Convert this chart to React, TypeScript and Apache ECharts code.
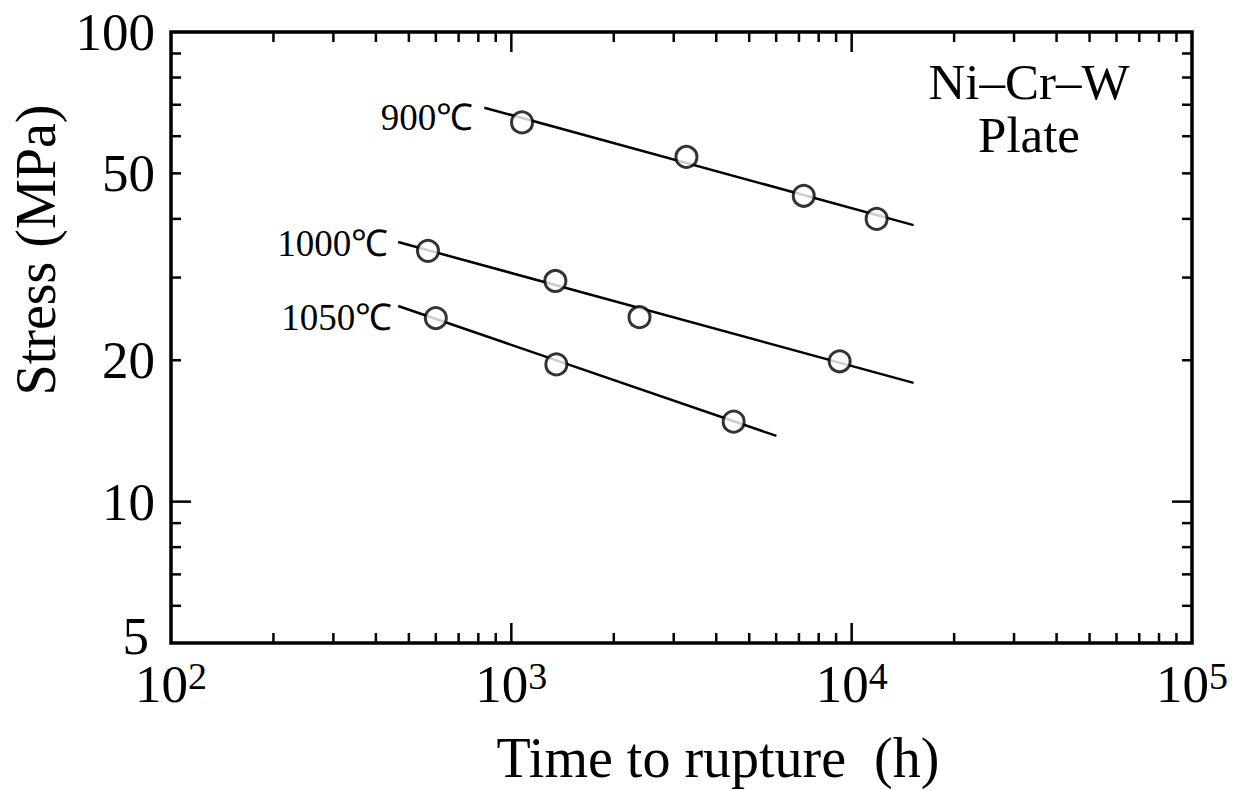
import React, { useEffect, useRef } from "react";
import * as echarts from "echarts";

// ---- data ----
const seriesNames = ["900℃", "1000℃", "1050℃"];
const points900: [number, number][] = [[1075, 64.2], [3270, 54.2], [7230, 44.8], [11840, 40.0]];
const points1000: [number, number][] = [[569, 34.2], [1347, 29.5], [2380, 24.7], [9220, 19.9]];
const points1050: [number, number][] = [[600, 24.6], [1356, 19.6], [4500, 14.8]];
const fit900: [number, number][] = [[833, 69.0], [15200, 38.8]];
const fit1000: [number, number][] = [[465, 35.7], [15200, 17.9]];
const fit1050: [number, number][] = [[465, 26.1], [6010, 13.8]];

const yTickLabels = [5, 10, 20, 50, 100];
const xMinorTicks = [200, 300, 400, 500, 600, 700, 800, 900, 2000, 3000, 4000, 5000, 6000, 7000, 8000, 9000, 20000, 30000, 40000, 50000, 60000, 70000, 80000, 90000];
const xMajorTicks = [1000, 10000];
const yMinorTicks = [6, 7, 8, 9, 20, 30, 40, 50, 60, 70, 80, 90];
const yMajorTicks = [10];

const labelOffsets: [number, number][] = [[0, 10], [0, 1], [0, 12]];
const labelDistances = [11, 10, 6];

const SERIF = "'Liberation Serif', 'Times New Roman', serif";

export default function App() {
  const ref = useRef<HTMLDivElement>(null);
  useEffect(() => {
    document.body.style.margin = "0";
    const chart = echarts.init(ref.current!, undefined, { renderer: "svg" });
    const fits = [fit900, fit1000, fit1050];
    const pts = [points900, points1000, points1050];

    const lineSeries = fits.map((f, i) => ({
      type: "line",
      name: seriesNames[i] + " fit",
      symbol: "circle",
      symbolSize: 0,
      showSymbol: true,
      lineStyle: { color: "#000", width: 2.5 },
      itemStyle: { color: "#000" },
      z: 2,
      data: f.map((p, j) =>
        j === 0
          ? {
              value: p,
              label: {
                show: true,
                position: "left",
                distance: labelDistances[i],
                offset: labelOffsets[i],
                formatter: seriesNames[i],
                fontSize: 37,
                fontFamily: SERIF,
                color: "#000",
              },
            }
          : { value: p, label: { show: false } }
      ),
    }));

    const scatterSeries = pts.map((p, i) => ({
      type: "scatter",
      name: seriesNames[i],
      symbol: "circle",
      symbolSize: 21,
      itemStyle: { color: "#fff", borderColor: "#000", borderWidth: 3 },
      z: 3,
      data: p,
    }));

    const xTickData = [
      ...xMinorTicks.map((v) => [v, 10, 10]),
      ...xMajorTicks.map((v) => [v, 10, 20]),
    ];
    const yTickData = [
      ...yMinorTicks.map((v) => [1000, v, 10]),
      ...yMajorTicks.map((v) => [1000, v, 20]),
    ];

    const option: any = {
      animation: false,
      grid: {
        left: 171,
        right: 47,
        top: 32,
        bottom: 147,
        show: true,
        borderColor: "#000",
        borderWidth: 3.5,
        backgroundColor: "transparent",
      },
      xAxis: {
        type: "log",
        logBase: 10,
        min: 100,
        max: 100000,
        axisLine: { show: false },
        axisTick: { show: false },
        splitLine: { show: false },
        axisLabel: {
          margin: 14,
          formatter: (v: number) => `{b|10}{s|${Math.round(Math.log10(v))}}`,
          rich: {
            b: { fontSize: 53, fontFamily: SERIF, color: "#000" },
            s: { fontSize: 38, fontFamily: SERIF, color: "#000", verticalAlign: "top" },
          },
        },
      },
      yAxis: {
        type: "log",
        logBase: 10,
        min: 5,
        max: 100,
        axisLine: { show: false },
        axisTick: { show: false },
        axisLabel: { show: false },
        splitLine: { show: false },
      },
      graphic: [
        {
          type: "text",
          x: 718,
          y: 758,
          style: {
            text: "Time to rupture  (h)",
            fontSize: 56,
            fontFamily: SERIF,
            fill: "#000",
            align: "center",
            verticalAlign: "middle",
          },
        },
        {
          type: "text",
          x: 36,
          y: 250,
          rotation: Math.PI / 2,
          style: {
            text: "Stress (MPa)",
            fontSize: 56,
            fontFamily: SERIF,
            fill: "#000",
            align: "center",
            verticalAlign: "middle",
          },
        },
        {
          type: "text",
          x: 1029,
          y: 108,
          style: {
            text: "Ni–Cr–W\nPlate",
            fontSize: 51,
            lineHeight: 53,
            fontFamily: SERIF,
            fill: "#000",
            align: "center",
            verticalAlign: "middle",
          },
        },
      ],
      series: [
        ...lineSeries,
        ...scatterSeries,
        {
          type: "custom",
          name: "xticks",
          silent: true,
          data: xTickData,
          renderItem: (params: any, api: any) => {
            const cs = params.coordSys;
            const px = api.coord([api.value(0), 10])[0];
            const len = api.value(2);
            const b = cs.y + cs.height;
            return {
              type: "group",
              children: [
                { type: "line", shape: { x1: px, y1: b, x2: px, y2: b - len }, style: { stroke: "#000", lineWidth: 2.5 } },
                { type: "line", shape: { x1: px, y1: cs.y, x2: px, y2: cs.y + len }, style: { stroke: "#000", lineWidth: 2.5 } },
              ],
            };
          },
        },
        {
          type: "custom",
          name: "yticks",
          silent: true,
          data: yTickData,
          renderItem: (params: any, api: any) => {
            const cs = params.coordSys;
            const py = api.coord([1000, api.value(1)])[1];
            const len = api.value(2);
            const r = cs.x + cs.width;
            return {
              type: "group",
              children: [
                { type: "line", shape: { x1: cs.x, y1: py, x2: cs.x + len, y2: py }, style: { stroke: "#000", lineWidth: 2.5 } },
                { type: "line", shape: { x1: r, y1: py, x2: r - len, y2: py }, style: { stroke: "#000", lineWidth: 2.5 } },
              ],
            };
          },
        },
        {
          type: "custom",
          name: "ylabels",
          silent: true,
          data: yTickLabels.map((v) => [1000, v]),
          renderItem: (params: any, api: any) => {
            const cs = params.coordSys;
            const v = api.value(1);
            const py = api.coord([1000, v])[1];
            const isBottom = v === yTickLabels[0];
            return {
              type: "text",
              x: cs.x - (isBottom ? 22 : 16),
              y: py - (isBottom ? 7 : 0),
              style: {
                text: String(v),
                fontSize: 53,
                fontFamily: SERIF,
                fill: "#000",
                align: "right",
                verticalAlign: "middle",
              },
            };
          },
        },
      ],
    };
    chart.setOption(option);
    return () => chart.dispose();
  }, []);
  return <div ref={ref} style={{ width: 1239, height: 790 }} />;
}
